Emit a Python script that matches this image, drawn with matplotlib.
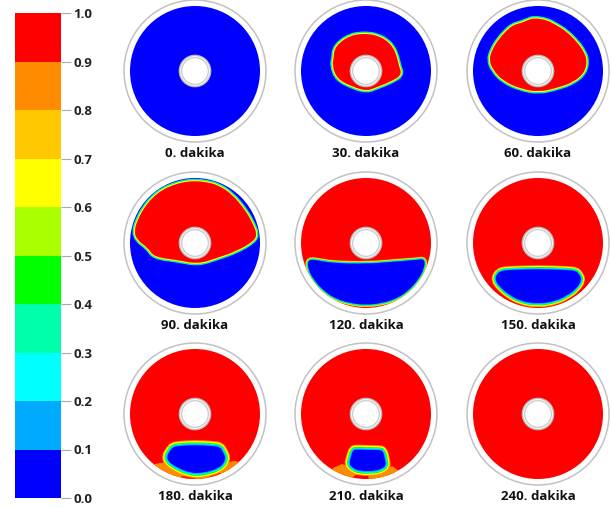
import matplotlib
matplotlib.use("Agg")
import matplotlib.pyplot as plt
from matplotlib.cm import ScalarMappable
from matplotlib.colors import BoundaryNorm, ListedColormap
from matplotlib.patches import Circle, PathPatch, Polygon
from matplotlib.path import Path

# Colour scale
levels = [0.0, 0.1, 0.2, 0.3, 0.4, 0.5, 0.6, 0.7, 0.8, 0.9, 1.0]
level_colors = ['#0000ff', '#00aaff', '#00ffff', '#00ffaa', '#00ff00',
                '#aaff00', '#ffff00', '#ffc800', '#ff8c00', '#ff0000']
tick_labels = ['0.0', '0.1', '0.2', '0.3', '0.4', '0.5', '0.6', '0.7', '0.8', '0.9', '1.0']

# Panel titles
minutes = [0, 30, 60, 90, 120, 150, 180, 210, 240]

# Melt fronts (x, y from the tube centre)
front_30 = [(-32, 14), (-32, 21), (-26, 29), (-16, 35), (-7, 37), (4, 37), (12, 35), (20, 31),
            (27, 24), (31, 14), (33, 5), (36, -4), (24, -11), (11, -16), (1, -20), (-13, -16),
            (-29, -8), (-34, 6)]
front_60 = [(-49, 11), (-46, 21), (-40, 31), (-32, 40), (-25, 46), (-17, 48), (-10, 51), (-4, 53),
            (9, 51), (18, 46), (28, 40), (40, 28), (46, 19), (49, 11), (47, -1), (36, -11),
            (19, -17), (1, -21), (-17, -18), (-35, -10), (-45, 1)]
front_90 = [(-61, 12), (-57, 24), (-51, 35), (-43, 45), (-33, 53), (-22, 58), (-11, 61), (0, 62),
            (11, 61), (23, 58), (37, 49), (51, 32), (58, 19), (62, 9), (59, 2), (42, -8),
            (22, -15), (3, -21), (-18, -17), (-41, -14), (-47, -5), (-58, 3)]

# Solid that is left, blue part
solid_120 = [(-58, -16), (-45, -18), (-33, -20), (0, -21), (37, -18), (50, -17), (59, -16),
             (58, -26), (52, -37), (43, -47), (32, -55), (17, -60), (0, -62), (-17, -60),
             (-32, -55), (-43, -47), (-52, -37), (-58, -26)]
solid_150 = [(-37, -28), (-30, -27), (0, -26), (30, -27), (38, -28), (41, -31), (44, -37),
             (38, -46), (30, -52), (18, -58), (0, -61), (-18, -58), (-30, -51), (-38, -44),
             (-43, -37), (-41, -31)]
solid_180 = [(-22, -33), (-16, -32), (0, -31), (18, -32), (25, -33), (28, -38), (31, -45),
             (25, -54), (8, -59), (-5, -59), (-19, -53), (-27, -47), (-28, -42), (-25, -37)]
solid_210 = [(-13, -36), (-9, -35.5), (2, -36), (13, -36), (17, -37), (19, -45), (20, -52),
             (15, -55), (9, -57), (-7, -57), (-13, -54), (-17, -50), (-15, -43)]

# Orange patches along the wall
wall_180 = [[(-40, -50), (-28, -48), (-25, -53), (-12, -60), (0, -62), (15, -60), (28, -50),
             (38, -47), (46, -48), (40, -62), (0, -70), (-40, -62)]]
wall_210 = [[(-33, -54), (-24, -50), (-15, -53), (-8, -60), (-12, -62), (-18, -70), (-38, -62)],
            [(2, -60), (10, -58), (18, -55), (26, -52), (33, -57), (15, -70), (3, -66)]]

# Red blobs left inside the orange
blob_180 = [[(-14, -62), (-2, -62), (2, -66), (-12, -66)],
            [(14, -61), (22, -57), (26, -60), (16, -64)]]

fronts = {30: front_30, 60: front_60, 90: front_90}
solids = {120: solid_120, 150: solid_150, 180: solid_180, 210: solid_210}
walls = {180: wall_180, 210: wall_210}
blobs = {180: blob_180}
rim_scale = {120: 0.6, 150: 0.9, 180: 1.15, 210: 1.1}

column_x = [195, 366, 538]
row_y = [71, 243, 414]
W, H = 611, 508


def smooth_path(points):
    # closed curve, the read points act as quadratic control points
    verts = [((points[-1][0] + points[0][0]) / 2, (points[-1][1] + points[0][1]) / 2)]
    codes = [Path.MOVETO]
    for k, p in enumerate(points):
        q = points[(k + 1) % len(points)]
        verts += [p, ((p[0] + q[0]) / 2, (p[1] + q[1]) / 2)]
        codes += [Path.CURVE3, Path.CURVE3]
    return Path(verts, codes)


plt.rcParams['font.family'] = ['Open Sans', 'DejaVu Sans']
fig = plt.figure(figsize=(W / 100, H / 100), dpi=100)

#------------ Colour bar ------------
cax = fig.add_axes([15 / W, 1 - 498 / H, 46 / W, 485 / H])
cmap = ListedColormap(level_colors)
norm = BoundaryNorm(levels, cmap.N)
cbar = fig.colorbar(ScalarMappable(norm=norm, cmap=cmap), cax=cax, ticks=levels, drawedges=False)
cbar.outline.set_visible(False)
cbar.ax.set_yticklabels(tick_labels, fontsize=9.5, fontweight='bold', color='#222222')
cbar.ax.tick_params(length=7, width=0.8, color='#aaaaaa', pad=2)
cbar.ax.minorticks_off()

#------------ Panels ------------
for i, minute in enumerate(minutes):
    cx = column_x[i % 3]
    cy = row_y[i // 3]
    ax = fig.add_axes([(cx - 74) / W, 1 - (cy + 74) / H, 148 / W, 148 / H])
    ax.set_xlim(-74, 74)
    ax.set_ylim(-74, 74)
    ax.axis('off')

    base = '#0000ff' if minute < 120 else '#ff0000'
    disc = Circle((0, 0), 65, fc=base, ec='none', zorder=1)
    ax.add_patch(disc)

    # Patches and strokes are cut at the wall of the disc
    layers = []
    for patch_points in walls.get(minute, []):
        layers.append(Polygon(patch_points, fc='#ff8c00', ec='none', zorder=2))
    for patch_points in blobs.get(minute, []):
        layers.append(Polygon(patch_points, fc='#ff2000', ec='none', zorder=2.5))

    if minute in fronts:
        shape = smooth_path(fronts[minute])
        for color, width in [('#00e0ff', 3.6), ('#00ff60', 2.7), ('#ffff00', 1.6)]:
            layers.append(PathPatch(shape, fc='none', ec=color, lw=width, zorder=3))
        layers.append(PathPatch(shape, fc='#ff0000', ec='none', zorder=4))

    if minute in solids:
        shape = smooth_path(solids[minute])
        for color, width in [('#ff8c00', 6.4), ('#ffff00', 5.2), ('#00ff00', 3.6),
                             ('#00ffff', 2.4), ('#00aaff', 1.4)]:
            layers.append(PathPatch(shape, fc='none', ec=color, lw=width * rim_scale[minute],
                                    zorder=3))
        layers.append(PathPatch(shape, fc='#0000ff', ec='none', zorder=4))

    for layer in layers:
        ax.add_patch(layer)
        layer.set_clip_path(disc)

    ax.add_patch(Circle((0, 0), 71, fc='none', ec='#c2c2c2', lw=1.1, zorder=5))
    ax.add_patch(Circle((0, 0), 15.7, fc='#f2f2f2', ec='#bcbcbc', lw=0.9, zorder=5))
    ax.add_patch(Circle((0, 0), 13.3, fc='white', ec='#c8c8c8', lw=0.8, zorder=6))

    ax.text(0, -82.5, f"{minute}. dakika", ha='center', va='center',
            fontsize=9.5, fontweight='bold', color='#111111')

plt.savefig('out.png', dpi=100)
